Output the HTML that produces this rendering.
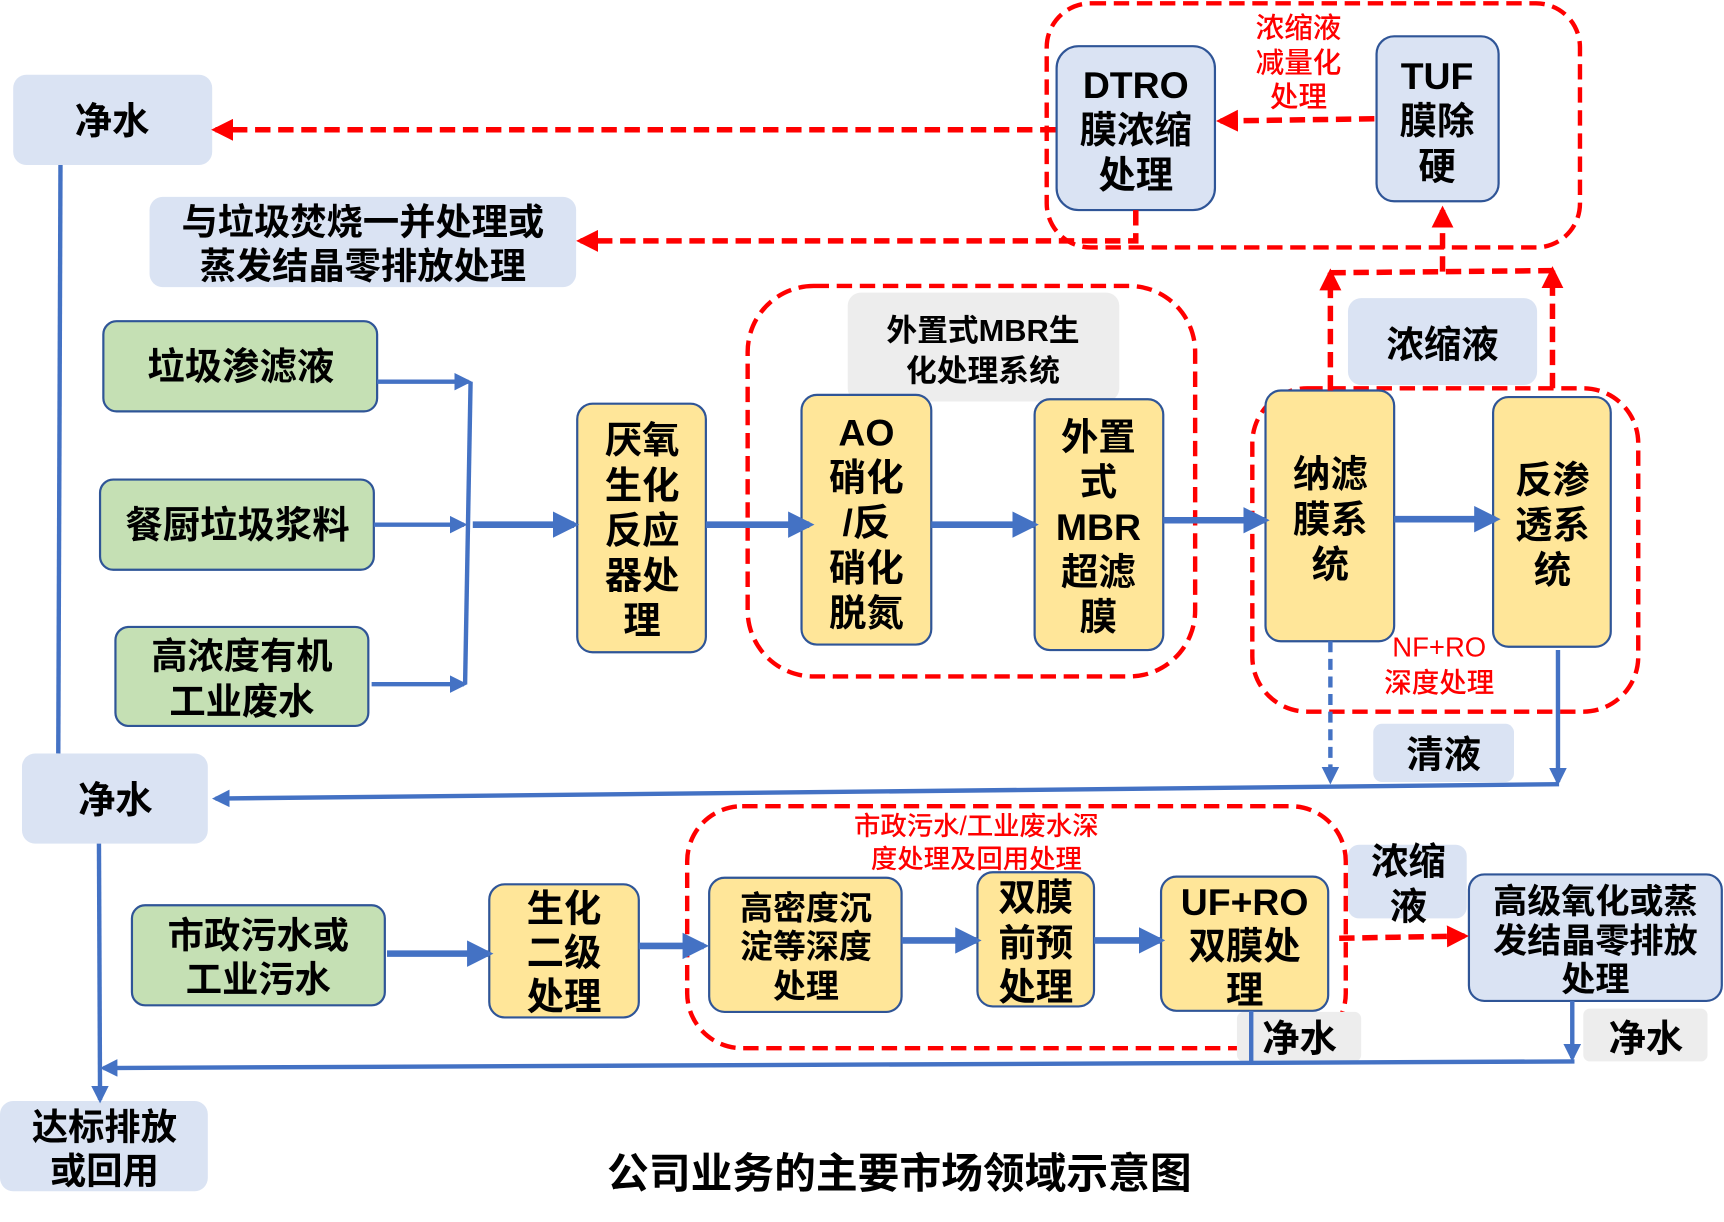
<!DOCTYPE html>
<html><head><meta charset="utf-8"><style>
html,body{margin:0;padding:0;background:#fff;}
svg{display:block;}
text{font-family:"Liberation Sans","Noto Sans CJK SC",sans-serif;font-weight:bold;fill:#000;text-anchor:middle;}
.r{fill:#ff0000;font-weight:500;}
</style></head><body>
<svg width="1724" height="1222" viewBox="0 0 1568 1111" preserveAspectRatio="none" xmlns="http://www.w3.org/2000/svg">
<defs>
<marker id="ab" markerWidth="4" markerHeight="4" refX="3.2" refY="2" orient="auto" markerUnits="strokeWidth"><path d="M0,0 L4,2 L0,4 z" fill="#4472c4"/></marker>
<marker id="ar" markerWidth="4" markerHeight="4" refX="3.2" refY="2" orient="auto" markerUnits="strokeWidth"><path d="M0,0 L4,2 L0,4 z" fill="#ff0000"/></marker>
</defs>
<g fill="none" stroke="#ff0000" stroke-width="4" stroke-dasharray="14,7">
<rect x="952" y="3" width="485" height="222" rx="40"/>
<rect x="680" y="260" width="407" height="355" rx="60"/>
<rect x="1139" y="353" width="351" height="294" rx="50"/>
<rect x="625" y="733" width="599" height="220" rx="50"/>
</g>
<g fill="#dae3f3">
<rect x="12" y="68" width="181" height="82" rx="12"/>
<rect x="136" y="179" width="388" height="82" rx="12"/>
<rect x="1226" y="271" width="172" height="79" rx="12"/>
<rect x="1249" y="658" width="128" height="53" rx="8"/>
<rect x="20" y="685" width="169" height="82" rx="12"/>
<rect x="0" y="1001" width="189" height="82" rx="12"/>
<rect x="1226" y="768" width="108" height="67" rx="10"/>
</g>
<g fill="#ededed">
<rect x="771" y="266" width="247" height="99" rx="12"/>
<rect x="1125" y="920" width="113" height="45" rx="6"/>
<rect x="1440" y="917" width="113" height="48" rx="6"/>
</g>
<g stroke="#2f5597" stroke-width="2">
<rect x="94" y="292" width="249" height="82" rx="12" fill="#c5e0b4"/>
<rect x="91" y="436" width="249" height="82" rx="12" fill="#c5e0b4"/>
<rect x="105" y="570" width="230" height="90" rx="12" fill="#c5e0b4"/>
<rect x="120" y="823" width="230" height="91" rx="12" fill="#c5e0b4"/>
<rect x="525" y="367" width="117" height="226" rx="14" fill="#ffe699"/>
<rect x="729" y="359" width="118" height="227" rx="14" fill="#ffe699"/>
<rect x="941" y="363" width="117" height="228" rx="14" fill="#ffe699"/>
<rect x="1151" y="355" width="117" height="228" rx="14" fill="#ffe699"/>
<rect x="1358" y="361" width="107" height="227" rx="14" fill="#ffe699"/>
<rect x="445" y="804" width="136" height="121" rx="14" fill="#ffe699"/>
<rect x="645" y="798" width="175" height="122" rx="14" fill="#ffe699"/>
<rect x="889" y="793" width="106" height="122" rx="14" fill="#ffe699"/>
<rect x="1056" y="797" width="152" height="122" rx="14" fill="#ffe699"/>
<rect x="961" y="42" width="144" height="149" rx="20" fill="#dae3f3"/>
<rect x="1252" y="33" width="111" height="150" rx="16" fill="#dae3f3"/>
<rect x="1336" y="795" width="230" height="115" rx="14" fill="#dae3f3"/>
</g>
<g fill="none" stroke="#4472c4" stroke-width="4">
<line x1="55" y1="150" x2="53" y2="685"/>
<line x1="428" y1="347" x2="423" y2="622"/>
<line x1="343" y1="347" x2="426" y2="347" marker-end="url(#ab)"/>
<line x1="340" y1="477" x2="422" y2="477" marker-end="url(#ab)"/>
<line x1="338" y1="622" x2="422" y2="622" marker-end="url(#ab)"/>
<line x1="1418" y1="713" x2="196" y2="726" marker-end="url(#ab)"/>
<line x1="1417" y1="591" x2="1417" y2="711" marker-end="url(#ab)"/>
<line x1="1210" y1="583" x2="1210" y2="710" stroke-dasharray="10,6" marker-end="url(#ab)"/>
<line x1="90" y1="767" x2="91" y2="1000" marker-end="url(#ab)"/>
<line x1="1432" y1="965" x2="94" y2="971" marker-end="url(#ab)"/>
<line x1="1138" y1="919" x2="1138" y2="965"/>
<line x1="1430" y1="910" x2="1430" y2="962" marker-end="url(#ab)"/>
</g>
<g fill="none" stroke="#4472c4" stroke-width="6">
<line x1="430" y1="477" x2="522" y2="477" marker-end="url(#ab)"/>
<line x1="642" y1="477" x2="736" y2="477" marker-end="url(#ab)"/>
<line x1="847" y1="477" x2="940" y2="477" marker-end="url(#ab)"/>
<line x1="1058" y1="473" x2="1150" y2="473" marker-end="url(#ab)"/>
<line x1="1268" y1="472" x2="1360" y2="472" marker-end="url(#ab)"/>
<line x1="352" y1="867" x2="444" y2="867" marker-end="url(#ab)"/>
<line x1="581" y1="860" x2="640" y2="860" marker-end="url(#ab)"/>
<line x1="820" y1="855" x2="888" y2="855" marker-end="url(#ab)"/>
<line x1="995" y1="855" x2="1055" y2="855" marker-end="url(#ab)"/>
</g>
<g fill="none" stroke="#ff0000" stroke-width="5" stroke-dasharray="14,7">
<line x1="960" y1="118" x2="196" y2="118" marker-end="url(#ar)"/>
<line x1="1250" y1="108" x2="1110" y2="110" marker-end="url(#ar)"/>
<polyline points="1033,191 1033,219 528,219" marker-end="url(#ar)"/>
<line x1="1210" y1="355" x2="1210" y2="248" marker-end="url(#ar)"/>
<line x1="1412" y1="353" x2="1412" y2="246" marker-end="url(#ar)"/>
<line x1="1210" y1="248" x2="1412" y2="246"/>
<line x1="1312" y1="247" x2="1312" y2="191" marker-end="url(#ar)"/>
<line x1="1218" y1="853" x2="1332" y2="851" marker-end="url(#ar)"/>
</g>
<g font-size="34">
<text x="102" y="122">净水</text>
<text x="105" y="739">净水</text>
<text x="330" y="213" font-size="33">与垃圾焚烧一并处理或</text>
<text x="330" y="253" font-size="33">蒸发结晶零排放处理</text>
<text x="219" y="345">垃圾渗滤液</text>
<text x="216" y="489">餐厨垃圾浆料</text>
<text x="220" y="608" font-size="33">高浓度有机</text>
<text x="220" y="649" font-size="33">工业废水</text>
<text x="235" y="862" font-size="33">市政污水或</text>
<text x="235" y="902" font-size="33">工业污水</text>
<text x="95" y="1036" font-size="33">达标排放</text>
<text x="95" y="1076" font-size="33">或回用</text>
<text x="584" y="412">厌氧</text><text x="584" y="453">生化</text><text x="584" y="494">反应</text><text x="584" y="535">器处</text><text x="584" y="576">理</text>
<text x="788" y="405">AO</text><text x="788" y="446">硝化</text><text x="788" y="487">/反</text><text x="788" y="528">硝化</text><text x="788" y="569">脱氮</text>
<text x="999" y="409">外置</text><text x="999" y="450">式</text><text x="999" y="491">MBR</text><text x="999" y="532">超滤</text><text x="999" y="573">膜</text>
<text x="894" y="310" font-size="28" font-weight="500">外置式MBR生</text>
<text x="894" y="347" font-size="28" font-weight="500">化处理系统</text>
<text x="1210" y="443">纳滤</text><text x="1210" y="484">膜系</text><text x="1210" y="525">统</text>
<text x="1412" y="448">反渗</text><text x="1412" y="489">透系</text><text x="1412" y="530">统</text>
<text x="1312" y="325">浓缩液</text>
<text x="1313" y="698">清液</text>
<text x="1033" y="89">DTRO</text><text x="1033" y="130">膜浓缩</text><text x="1033" y="171">处理</text>
<text x="1307" y="81">TUF</text><text x="1307" y="122">膜除</text><text x="1307" y="163">硬</text>
<text x="1181" y="34" font-size="26" class="r">浓缩液</text>
<text x="1181" y="66" font-size="26" class="r">减量化</text>
<text x="1181" y="97" font-size="26" class="r">处理</text>
<text x="1309" y="597" font-size="25" class="r">NF+RO</text>
<text x="1309" y="629" font-size="25" class="r">深度处理</text>
<text x="888" y="759" font-size="24" class="r">市政污水/工业废水深</text>
<text x="888" y="789" font-size="24" class="r">度处理及回用处理</text>
<text x="513" y="838">生化</text><text x="513" y="878">二级</text><text x="513" y="918">处理</text>
<text x="733" y="836" font-size="30" font-weight="500">高密度沉</text><text x="733" y="871" font-size="30" font-weight="500">淀等深度</text><text x="733" y="907" font-size="30" font-weight="500">处理</text>
<text x="942" y="828">双膜</text><text x="942" y="869">前预</text><text x="942" y="909">处理</text>
<text x="1132" y="832">UF+RO</text><text x="1132" y="872">双膜处</text><text x="1132" y="912">理</text>
<text x="1281" y="795">浓缩</text><text x="1281" y="836">液</text>
<text x="1451" y="830" font-size="31" font-weight="500">高级氧化或蒸</text><text x="1451" y="866" font-size="31" font-weight="500">发结晶零排放</text><text x="1451" y="901" font-size="31" font-weight="500">处理</text>
<text x="1182" y="956">净水</text>
<text x="1497" y="956">净水</text>
<text x="818" y="1080" font-size="38">公司业务的主要市场领域示意图</text>
</g>
</svg>
</body></html>
